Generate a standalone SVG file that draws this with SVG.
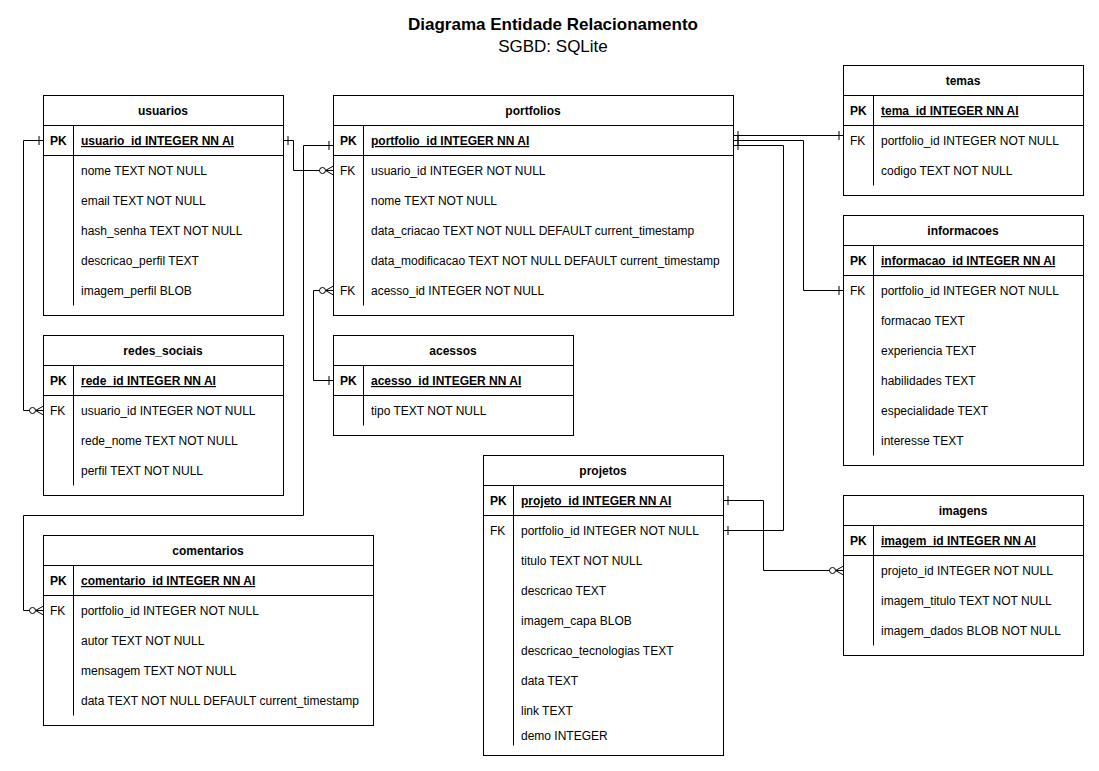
<svg xmlns="http://www.w3.org/2000/svg" width="1099" height="771" viewBox="0 0 1099 771">
<style>
text{font-family:"Liberation Sans",Arial,sans-serif;font-size:12px;fill:#000}
.title{font-size:17px;font-weight:bold}
.sub{font-size:17px}
.hd{font-weight:bold;text-anchor:middle}
.pk{font-weight:bold}
.pkf{font-weight:bold;text-decoration:underline}
.box{fill:#fff;stroke:#000;stroke-width:1}
.ln{stroke:#000;stroke-width:1;fill:none}
.conn{stroke:#000;stroke-width:1;fill:none}
</style>
<defs>
<marker id="one" markerUnits="userSpaceOnUse" viewBox="-20 -10 20 20" refX="0" refY="0" markerWidth="20" markerHeight="20" orient="auto-start-reverse" overflow="visible">
<path d="M-4.5 -4.5 V4.5" stroke="#000" stroke-width="1" fill="none"/>
</marker>
<marker id="zm" markerUnits="userSpaceOnUse" viewBox="-20 -10 20 20" refX="0" refY="0" markerWidth="20" markerHeight="20" orient="auto-start-reverse" overflow="visible">
<path d="M0 -4.5 L-8 0 L0 4.5 M-8 0 H0" stroke="#000" stroke-width="1" fill="none"/>
<circle cx="-11" cy="0" r="3" fill="#fff" stroke="#000" stroke-width="1"/>
</marker>
</defs>
<rect x="0" y="0" width="1099" height="771" fill="#fff"/>
<text class="title" x="553" y="30" text-anchor="middle">Diagrama Entidade Relacionamento</text>
<text class="sub" x="553" y="52" text-anchor="middle">SGBD: SQLite</text>

<g id="connectors">
<path class="conn" d="M283.5 140.5 H293.5 V170.5 H333.5" marker-start="url(#one)" marker-end="url(#zm)"/>
<path class="conn" d="M43.5 140.5 H23.5 V410.5 H43.5" marker-start="url(#one)" marker-end="url(#zm)"/>
<path class="conn" d="M333.5 145.5 H303.5 V515.5 H23.5 V610.5 H43.5" marker-start="url(#one)" marker-end="url(#zm)"/>
<path class="conn" d="M333.5 290.5 H313.5 V380.5 H333.5" marker-start="url(#zm)" marker-end="url(#one)"/>
<path class="conn" d="M733.5 135.5 H843.5" marker-start="url(#one)" marker-end="url(#one)"/>
<path class="conn" d="M733.5 140.5 H803.5 V290.5 H843.5" marker-start="url(#one)" marker-end="url(#one)"/>
<path class="conn" d="M733.5 145.5 H783.5 V530.5 H723.5" marker-start="url(#one)" marker-end="url(#one)"/>
<path class="conn" d="M723.5 500.5 H763.5 V570.5 H843.5" marker-start="url(#one)" marker-end="url(#zm)"/>
</g>

<g id="usuarios">
<rect class="box" x="43.5" y="95.5" width="240" height="220"/>
<path class="ln" d="M43.5 125.5 H283.5 M43.5 155.5 H283.5 M73.5 125.5 V305.5"/>
<text class="hd" x="163" y="115">usuarios</text>
<text class="pk" x="50" y="145">PK</text>
<text class="pkf" x="81" y="145">usuario_id INTEGER NN AI</text>
<text x="81" y="175">nome TEXT NOT NULL</text>
<text x="81" y="205">email TEXT NOT NULL</text>
<text x="81" y="235">hash_senha TEXT NOT NULL</text>
<text x="81" y="265">descricao_perfil TEXT</text>
<text x="81" y="295">imagem_perfil BLOB</text>
</g>

<g id="portfolios">
<rect class="box" x="333.5" y="95.5" width="400" height="220"/>
<path class="ln" d="M333.5 125.5 H733.5 M333.5 155.5 H733.5 M363.5 125.5 V305.5"/>
<text class="hd" x="533" y="115">portfolios</text>
<text class="pk" x="340" y="145">PK</text>
<text class="pkf" x="371" y="145">portfolio_id INTEGER NN AI</text>
<text x="340" y="175">FK</text>
<text x="371" y="175">usuario_id INTEGER NOT NULL</text>
<text x="371" y="205">nome TEXT NOT NULL</text>
<text x="371" y="235">data_criacao TEXT NOT NULL DEFAULT current_timestamp</text>
<text x="371" y="265">data_modificacao TEXT NOT NULL DEFAULT current_timestamp</text>
<text x="340" y="295">FK</text>
<text x="371" y="295">acesso_id INTEGER NOT NULL</text>
</g>

<g id="temas">
<rect class="box" x="843.5" y="65.5" width="240" height="130"/>
<path class="ln" d="M843.5 95.5 H1083.5 M843.5 125.5 H1083.5 M873.5 95.5 V185.5"/>
<text class="hd" x="963" y="85">temas</text>
<text class="pk" x="850" y="115">PK</text>
<text class="pkf" x="881" y="115">tema_id INTEGER NN AI</text>
<text x="850" y="145">FK</text>
<text x="881" y="145">portfolio_id INTEGER NOT NULL</text>
<text x="881" y="175">codigo TEXT NOT NULL</text>
</g>

<g id="informacoes">
<rect class="box" x="843.5" y="215.5" width="240" height="250"/>
<path class="ln" d="M843.5 245.5 H1083.5 M843.5 275.5 H1083.5 M873.5 245.5 V455.5"/>
<text class="hd" x="963" y="235">informacoes</text>
<text class="pk" x="850" y="265">PK</text>
<text class="pkf" x="881" y="265">informacao_id INTEGER NN AI</text>
<text x="850" y="295">FK</text>
<text x="881" y="295">portfolio_id INTEGER NOT NULL</text>
<text x="881" y="325">formacao TEXT</text>
<text x="881" y="355">experiencia TEXT</text>
<text x="881" y="385">habilidades TEXT</text>
<text x="881" y="415">especialidade TEXT</text>
<text x="881" y="445">interesse TEXT</text>
</g>

<g id="redes_sociais">
<rect class="box" x="43.5" y="335.5" width="240" height="160"/>
<path class="ln" d="M43.5 365.5 H283.5 M43.5 395.5 H283.5 M73.5 365.5 V485.5"/>
<text class="hd" x="163" y="355">redes_sociais</text>
<text class="pk" x="50" y="385">PK</text>
<text class="pkf" x="81" y="385">rede_id INTEGER NN AI</text>
<text x="50" y="415">FK</text>
<text x="81" y="415">usuario_id INTEGER NOT NULL</text>
<text x="81" y="445">rede_nome TEXT NOT NULL</text>
<text x="81" y="475">perfil TEXT NOT NULL</text>
</g>

<g id="acessos">
<rect class="box" x="333.5" y="335.5" width="240" height="100"/>
<path class="ln" d="M333.5 365.5 H573.5 M333.5 395.5 H573.5 M363.5 365.5 V425.5"/>
<text class="hd" x="453" y="355">acessos</text>
<text class="pk" x="340" y="385">PK</text>
<text class="pkf" x="371" y="385">acesso_id INTEGER NN AI</text>
<text x="371" y="415">tipo TEXT NOT NULL</text>
</g>

<g id="projetos">
<rect class="box" x="483.5" y="455.5" width="240" height="300"/>
<path class="ln" d="M483.5 485.5 H723.5 M483.5 515.5 H723.5 M513.5 485.5 V745.5"/>
<text class="hd" x="603" y="475">projetos</text>
<text class="pk" x="490" y="505">PK</text>
<text class="pkf" x="521" y="505">projeto_id INTEGER NN AI</text>
<text x="490" y="535">FK</text>
<text x="521" y="535">portfolio_id INTEGER NOT NULL</text>
<text x="521" y="565">titulo TEXT NOT NULL</text>
<text x="521" y="595">descricao TEXT</text>
<text x="521" y="625">imagem_capa BLOB</text>
<text x="521" y="655">descricao_tecnologias TEXT</text>
<text x="521" y="685">data TEXT</text>
<text x="521" y="715">link TEXT</text>
<text x="521" y="740">demo INTEGER</text>
</g>

<g id="imagens">
<rect class="box" x="843.5" y="495.5" width="240" height="160"/>
<path class="ln" d="M843.5 525.5 H1083.5 M843.5 555.5 H1083.5 M873.5 525.5 V645.5"/>
<text class="hd" x="963" y="515">imagens</text>
<text class="pk" x="850" y="545">PK</text>
<text class="pkf" x="881" y="545">imagem_id INTEGER NN AI</text>
<text x="881" y="575">projeto_id INTEGER NOT NULL</text>
<text x="881" y="605">imagem_titulo TEXT NOT NULL</text>
<text x="881" y="635">imagem_dados BLOB NOT NULL</text>
</g>

<g id="comentarios">
<rect class="box" x="43.5" y="535.5" width="330" height="190"/>
<path class="ln" d="M43.5 565.5 H373.5 M43.5 595.5 H373.5 M73.5 565.5 V715.5"/>
<text class="hd" x="208" y="555">comentarios</text>
<text class="pk" x="50" y="585">PK</text>
<text class="pkf" x="81" y="585">comentario_id INTEGER NN AI</text>
<text x="50" y="615">FK</text>
<text x="81" y="615">portfolio_id INTEGER NOT NULL</text>
<text x="81" y="645">autor TEXT NOT NULL</text>
<text x="81" y="675">mensagem TEXT NOT NULL</text>
<text x="81" y="705">data TEXT NOT NULL DEFAULT current_timestamp</text>
</g>
</svg>
